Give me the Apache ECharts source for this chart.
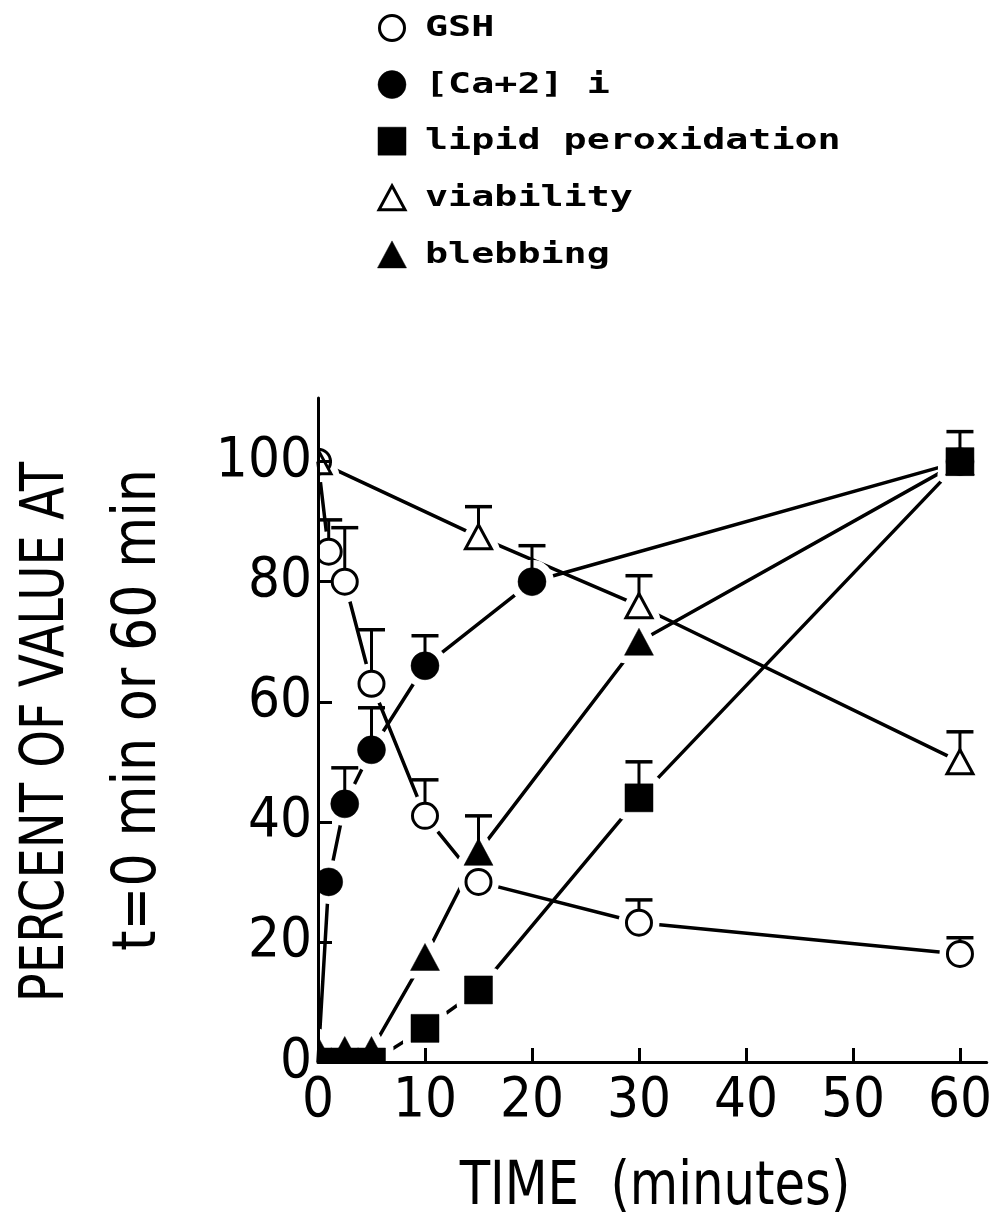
<!DOCTYPE html>
<html>
<head>
<meta charset="utf-8">
<script src="https://cdn.jsdelivr.net/npm/echarts@6/dist/echarts.min.js"></script>
<style>
  html, body { margin: 0; padding: 0; background: #fff; }
  #chart { width: 995px; height: 1216px; }
</style>
</head>
<body>
<div id="chart"></div>
<script>
// Time course (minutes) of each measured quantity, as percent of its value at t=0 or t=60
const gshTime = [0, 1, 2.5, 5, 10, 15, 30, 60];
const gshValue = [100, 85, 80, 63, 41, 30, 23.2, 18];
const gshError = [0, 5.3, 9, 9, 6, 0, 3.8, 2.7];

const caTime = [0, 1, 2.5, 5, 10, 20, 60];
const caValue = [0, 30, 43, 52, 66, 80, 100];
const caError = [0, 0, 6, 7, 5, 6, 0];

const lipidTime = [0, 2.5, 5, 10, 15, 30, 60];
const lipidValue = [0, 0, 0, 5.6, 12, 44, 100];
const lipidError = [0, 0, 0, 0, 0, 6, 5];

const viabilityTime = [0, 15, 30, 60];
const viabilityValue = [100, 87.5, 76, 50];
const viabilityError = [0, 5, 5, 5];

const blebTime = [0, 2.5, 5, 10, 15, 30, 60];
const blebValue = [2, 2, 2, 17.5, 35, 70, 100];
const blebError = [0, 0, 0, 0, 6, 0, 0];

const xTicks = [0, 10, 20, 30, 40, 50, 60];
const yTicks = [0, 20, 40, 60, 80, 100];

const xTitle = 'TIME  (minutes)';
const yTitle1 = 'PERCENT OF VALUE AT';
const yTitle2 = 't=0 min or 60 min';

// Drawing order: the square is drawn last so it sits on top at 60 min
const sets = [
  { name: 'GSH', t: gshTime, v: gshValue, e: gshError, mark: 'circleOpen' },
  { name: '[Ca+2] i', t: caTime, v: caValue, e: caError, mark: 'circleFilled' },
  { name: 'viability', t: viabilityTime, v: viabilityValue, e: viabilityError, mark: 'triOpen' },
  { name: 'blebbing', t: blebTime, v: blebValue, e: blebError, mark: 'triFilled' },
  { name: 'lipid peroxidation', t: lipidTime, v: lipidValue, e: lipidError, mark: 'square' }
];
const legendOrder = ['GSH', '[Ca+2] i', 'lipid peroxidation', 'viability', 'blebbing'];

const LABEL_FONT = '"DejaVu Sans Condensed", "DejaVu Sans", sans-serif';
const LEGEND_FONT = 'bold 28px "DejaVu Sans Mono", "Liberation Mono", monospace';

function markerShape(kind, cx, cy) {
  if (kind === 'circleOpen') return { type: 'circle', shape: { cx: cx, cy: cy, r: 12.5 } };
  if (kind === 'circleFilled') return { type: 'circle', shape: { cx: cx, cy: cy, r: 14 } };
  if (kind === 'square') return { type: 'rect', shape: { x: cx - 14, y: cy - 14, width: 28, height: 28 } };
  if (kind === 'triOpen') {
    return { type: 'polygon', shape: { points: [[cx, cy - 12], [cx + 13, cy + 12], [cx - 13, cy + 12]] } };
  }
  return { type: 'polygon', shape: { points: [[cx, cy - 13.5], [cx + 14.5, cy + 13.5], [cx - 14.5, cy + 13.5]] } };
}

function markerStyle(kind) {
  const open = kind === 'circleOpen' || kind === 'triOpen';
  return open
    ? { fill: '#fff', stroke: '#000', lineWidth: 3, lineJoin: 'miter' }
    : { fill: '#000', stroke: '#000', lineWidth: 0.5 };
}

function makeMarker(kind, cx, cy, extra) {
  const el = markerShape(kind, cx, cy);
  el.style = markerStyle(kind);
  return Object.assign(el, extra || {});
}

// one flat table of points: [time, value, error, set index]
const points = [];
sets.forEach(function (s, si) {
  s.t.forEach(function (t, i) { points.push([t, s.v[i], s.e[i], si]); });
});

const lineSeries = sets.map(function (s) {
  return {
    name: s.name,
    type: 'line',
    data: s.t.map(function (t, i) { return [t, s.v[i]]; }),
    symbol: 'none',
    lineStyle: { color: '#000', width: 3.5 },
    clip: true,
    silent: true,
    z: 2
  };
});

// white ring round each marker, which breaks the connecting lines near the symbols
const haloSeries = {
  type: 'custom',
  clip: true,
  silent: true,
  z: 3,
  data: points,
  encode: { x: 0, y: 1 },
  renderItem: function (params, api) {
    const p = api.coord([api.value(0), api.value(1)]);
    const kind = sets[api.value(3)].mark;
    const el = markerShape(kind, p[0], p[1]);
    el.style = { fill: '#fff', stroke: '#fff', lineWidth: 16, lineJoin: 'round' };
    return el;
  }
};

// one-sided (upper) error bars
const errorSeries = {
  type: 'custom',
  clip: true,
  silent: true,
  z: 4,
  data: points,
  encode: { x: 0, y: 1 },
  renderItem: function (params, api) {
    const err = api.value(2);
    if (!err) return null;
    const t = api.value(0), v = api.value(1);
    const p = api.coord([t, v]);
    const top = api.coord([t, v + err]);
    return {
      type: 'group',
      children: [
        { type: 'line', shape: { x1: p[0], y1: p[1], x2: top[0], y2: top[1] }, style: { stroke: '#000', lineWidth: 3 } },
        { type: 'line', shape: { x1: top[0] - 13.5, y1: top[1], x2: top[0] + 13.5, y2: top[1] }, style: { stroke: '#000', lineWidth: 3.5 } }
      ]
    };
  }
};

const markerSeries = {
  type: 'custom',
  clip: true,
  silent: true,
  z: 5,
  data: points,
  encode: { x: 0, y: 1 },
  renderItem: function (params, api) {
    const p = api.coord([api.value(0), api.value(1)]);
    return makeMarker(sets[api.value(3)].mark, p[0], p[1]);
  }
};

// key drawn above the plot
const legendGraphics = [];
legendOrder.forEach(function (name, row) {
  const s = sets.find(function (d) { return d.name === name; });
  const y = 28 + row * 56.6;
  legendGraphics.push(makeMarker(s.mark, 392, y));
  legendGraphics.push({
    type: 'text',
    x: 425,
    y: y + 1,
    scaleX: 1.37,
    style: { text: name, font: LEGEND_FONT, fill: '#000', align: 'left', verticalAlign: 'middle' }
  });
});

const titleGraphics = [
  {
    type: 'text', x: 47, y: 732, rotation: Math.PI / 2, scaleX: 0.89,
    style: { text: yTitle1, font: '60px ' + LABEL_FONT, fill: '#000', align: 'center', verticalAlign: 'middle' }
  },
  {
    type: 'text', x: 139, y: 710, rotation: Math.PI / 2, scaleX: 0.97,
    style: { text: yTitle2, font: '60px ' + LABEL_FONT, fill: '#000', align: 'center', verticalAlign: 'middle' }
  },
  {
    type: 'text', x: 655, y: 1188, scaleX: 0.92,
    style: { text: xTitle, font: '60px ' + LABEL_FONT, fill: '#000', align: 'center', verticalAlign: 'middle' }
  }
];

const chart = echarts.init(document.getElementById('chart'), null, { renderer: 'canvas' });
chart.setOption({
  animation: false,
  backgroundColor: '#fff',
  grid: { left: 318, right: 0, top: 398, bottom: 154, containLabel: false },
  xAxis: {
    type: 'value',
    min: 0,
    max: 62.5,
    interval: 10,
    z: 10,
    axisLine: { show: true, onZero: false, lineStyle: { color: '#000', width: 3 } },
    axisTick: { show: true, inside: true, length: 14, customValues: xTicks, lineStyle: { color: '#000', width: 3 } },
    axisLabel: { customValues: xTicks, color: '#000', fontFamily: LABEL_FONT, fontSize: 56, margin: 11 },
    splitLine: { show: false }
  },
  yAxis: {
    type: 'value',
    min: 0,
    max: 110.6,
    interval: 20,
    z: 10,
    axisLine: { show: true, onZero: false, lineStyle: { color: '#000', width: 3 } },
    axisTick: { show: true, inside: true, length: 14, customValues: yTicks, lineStyle: { color: '#000', width: 3 } },
    axisLabel: { customValues: yTicks, color: '#000', fontFamily: LABEL_FONT, fontSize: 56, margin: 6 },
    splitLine: { show: false }
  },
  graphic: legendGraphics.concat(titleGraphics),
  series: lineSeries.concat([haloSeries, errorSeries, markerSeries])
});
</script>
</body>
</html>
